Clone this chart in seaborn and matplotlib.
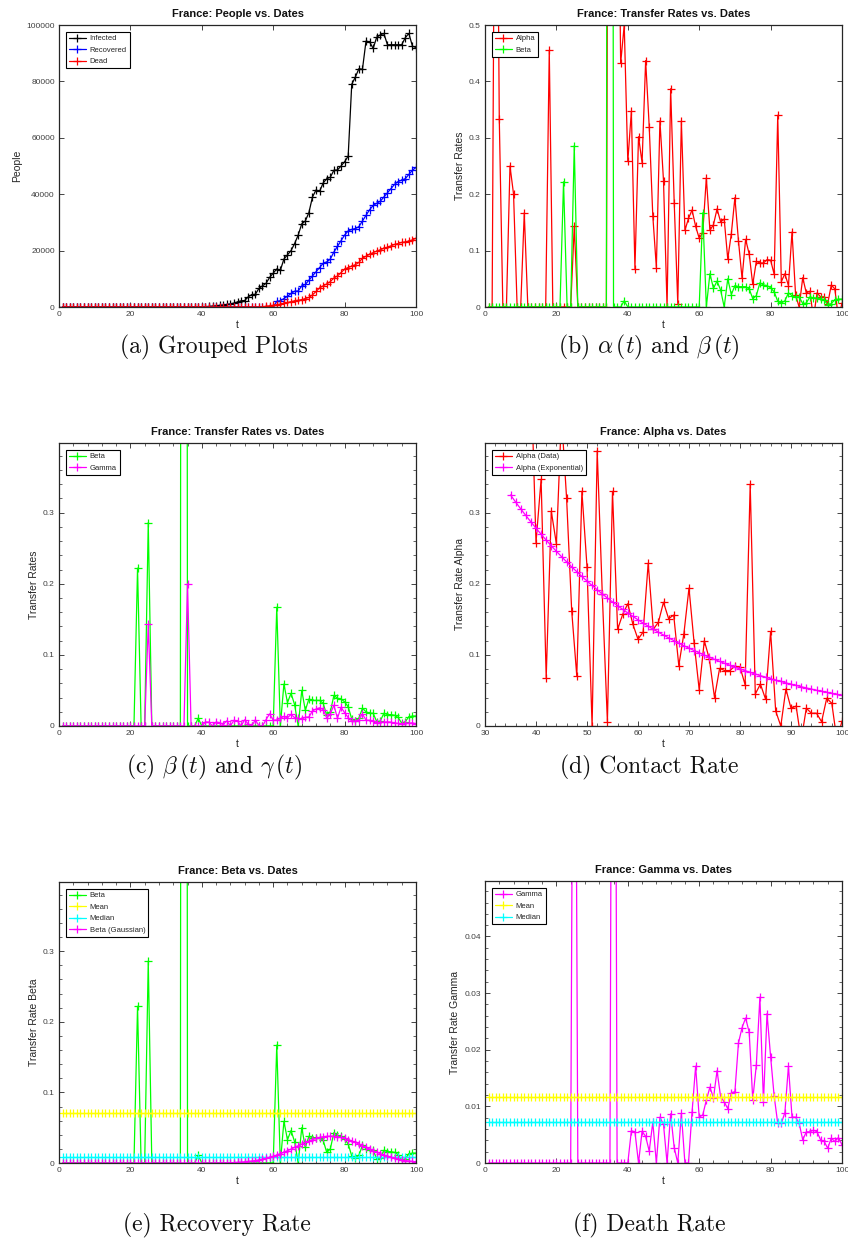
import numpy as np
import matplotlib
matplotlib.use('Agg')
import matplotlib.pyplot as plt
import seaborn as sns
from matplotlib.ticker import MultipleLocator, AutoMinorLocator, FormatStrFormatter

# ---- data ----
days = list(range(1, 101))

infected = [0] * 40 + [
    100, 200, 300, 400, 600, 700, 900, 1100, 1400, 1800,
    2200, 2300, 3600, 4400, 4500, 6600, 7500, 8400, 10500, 12000,
    13500, 13000, 17000, 18500, 20000, 22500, 25500, 29500, 30500, 33500,
    39000, 41500, 41000, 44000, 45500, 46000, 48500, 48600, 50000, 51500,
    53500, 79000, 81500, 84500, 84300, 94300, 94000, 91700, 95700, 96500,
    97000, 93000, 93000, 93000, 93000, 93000, 95500, 97000, 92500, 92000]

recovered = [0] * 60 + [
    2000, 2200, 3000, 3800, 4800, 5600, 5700, 7500, 8000, 9500,
    11000, 12500, 14000, 15500, 16000, 17000, 19500, 21500, 23500, 25500,
    27000, 27500, 27800, 28500, 30500, 32500, 34500, 36000, 36800, 37500,
    39000, 40500, 42000, 43500, 44500, 45000, 45500, 47000, 48500, 49500]

dead = [0] * 57 + [
    300, 400, 600,
    800, 1000, 1300, 1600, 1900, 2200, 2400, 2600, 3000, 3400,
    4300, 5500, 6800, 7500, 8200, 9000, 10300, 11000, 12200, 13400,
    14000, 14500, 15000, 15800, 17300, 18000, 18700, 19300, 19800, 20300,
    20800, 21200, 21700, 22200, 22500, 22900, 23100, 23400, 23800, 24400]

alpha = [0, 0, 1.2, 0.333, 0, 0, 0.25, 0.2, 0, 0,
         0.167, 0, 0, 0, 0, 0, 0, 0.455, 0, 0,
         0, 0, 0, 0, 0.143, 0, 0, 0, 0, 0,
         0, 0, 0, 0, 2.0, 1.5, 1.0, 0.432, 0.5, 0.258,
         0.347, 0.068, 0.302, 0.256, 0.437, 0.32, 0.162, 0.07, 0.33, 0.224,
         0, 0.387, 0.185, 0.006, 0.33, 0.136, 0.157, 0.172, 0.143, 0.122,
         0.132, 0.229, 0.136, 0.146, 0.174, 0.151, 0.156, 0.085, 0.13, 0.194,
         0.117, 0.051, 0.12, 0.094, 0.04, 0.081, 0.078, 0.078, 0.084, 0.083,
         0.058, 0.34, 0.045, 0.059, 0.038, 0.133, 0.021, 0.0, 0.052, 0.025,
         0.028, -0.02, 0.025, 0.018, 0.018, 0.006, 0.039, 0.032, -0.02, 0.007]

beta = [0] * 21 + [0.222, 0, 0, 0.286] + [0] * 9 + [5.6, 0, 0, 0, 0.011] + [0] * 21 + [
    0.167, 0, 0.059, 0.033, 0.046, 0.03, 0, 0.05, 0.022, 0.038,
    0.036, 0.036, 0.036, 0.032, 0.015, 0.02, 0.043, 0.039, 0.038, 0.034,
    0.027, 0.01, 0.007, 0.011, 0.025, 0.02, 0.018, 0.018, 0.006, 0.007,
    0.018, 0.016, 0.016, 0.015, 0.012, 0.004, 0.006, 0.013, 0.014, 0.014]

gamma = [0] * 24 + [0.143] + [0] * 10 + [0.2] + [0] * 4 + [
    0.0057, 0.0055, 0, 0.0056, 0.0047, 0.0021, 0.0072, 0, 0.0081, 0.0068,
    0, 0.0087, 0.0027, 0, 0.0088, 0, 0, 0.009, 0.0171, 0.0081,
    0.0085, 0.0111, 0.0134, 0.0115, 0.0163, 0.0117, 0.0108, 0.0096, 0.0124, 0.0126,
    0.0212, 0.0239, 0.0256, 0.0231, 0.0112, 0.0173, 0.0293, 0.0108, 0.0264, 0.0188,
    0.0118, 0.007, 0.007, 0.0089, 0.0171, 0.0081, 0.0081, 0.007, 0.0041, 0.0055,
    0.0055, 0.0058, 0.0055, 0.0041, 0.0038, 0.0026, 0.0044, 0.0038, 0.0045, 0.0032]

# exponential fit of alpha, days 35..100
alpha_exp = [0.325, 0.315, 0.3054, 0.2961, 0.287, 0.2782, 0.2697, 0.2614, 0.2534, 0.2457,
             0.2382, 0.2309, 0.2238, 0.217, 0.2103, 0.2039, 0.1976, 0.1916, 0.1857, 0.18,
             0.1745, 0.1692, 0.164, 0.159, 0.1541, 0.1494, 0.1448, 0.1404, 0.1361, 0.1319,
             0.1279, 0.124, 0.1202, 0.1165, 0.1129, 0.1095, 0.1061, 0.1029, 0.0997, 0.0967,
             0.0937, 0.0908, 0.0881, 0.0854, 0.0828, 0.0802, 0.0778, 0.0754, 0.0731, 0.0708,
             0.0687, 0.0666, 0.0645, 0.0626, 0.0606, 0.0588, 0.057, 0.0552, 0.0535, 0.0519,
             0.0503, 0.0488, 0.0473, 0.0458, 0.0444, 0.0431]

# gaussian fit of beta, days 1..100
beta_gauss = [0] * 43 + [
    0.0001, 0.0002, 0.0003, 0.0004, 0.0005, 0.0007, 0.001,
    0.0013, 0.0017, 0.0022, 0.0028, 0.0035, 0.0044, 0.0054, 0.0066, 0.008, 0.0095,
    0.0113, 0.0132, 0.0152, 0.0174, 0.0198, 0.0221, 0.0245, 0.0269, 0.0292, 0.0313,
    0.0332, 0.0349, 0.0362, 0.0372, 0.0378, 0.038, 0.0378, 0.0372, 0.0362, 0.0349,
    0.0332, 0.0313, 0.0292, 0.0269, 0.0245, 0.0221, 0.0198, 0.0174, 0.0152, 0.0132,
    0.0113, 0.0095, 0.008, 0.0066, 0.0054, 0.0044, 0.0035, 0.0028, 0.0022, 0.0017]

beta_mean = [0.071] * 100
beta_median = [0.0085] * 100
gamma_mean = [0.0117] * 100
gamma_median = [0.0073] * 100

# ---- style ----
sns.set_theme(style='white')
plt.rcParams['font.family'] = ['Liberation Sans', 'DejaVu Sans']
plt.rcParams['mathtext.fontset'] = 'cm'

W, H = 848, 1245
fig = plt.figure(figsize=(W / 100, H / 100), dpi=100)
fig.patch.set_facecolor('white')


def px_axes(l, t, r, b):
    return fig.add_axes([l / W, 1 - b / H, (r - l) / W, (b - t) / H])


def draw(ax, x, y, color, label):
    sns.lineplot(x=x, y=y, ax=ax, color=color, label=label, marker='+',
                 markersize=5.5, markeredgewidth=0.9, markeredgecolor=color,
                 linewidth=0.9, sort=False)


def style(ax, title, ylabel, xlim, xstep, ylim, ystep, minor=False):
    ax.set_facecolor('white')
    ax.set_title(title, fontsize=8, fontweight='bold', pad=6, color='#111111')
    ax.set_xlabel('t', fontsize=7.5, color='#262626', labelpad=1.5)
    ax.set_ylabel(ylabel, fontsize=7.5, color='#262626', labelpad=3)
    ax.set_xlim(xlim)
    ax.set_ylim(ylim)
    ax.xaxis.set_major_locator(MultipleLocator(xstep))
    ax.yaxis.set_major_locator(MultipleLocator(ystep))
    ax.xaxis.set_major_formatter(FormatStrFormatter('%g'))
    ax.yaxis.set_major_formatter(FormatStrFormatter('%g'))
    if minor:
        ax.xaxis.set_minor_locator(AutoMinorLocator(5))
        ax.yaxis.set_minor_locator(AutoMinorLocator(5))
    ax.tick_params(which='both', direction='in', top=True, right=True,
                   bottom=True, left=True, color='#262626', labelsize=6,
                   labelcolor='#404040', pad=3)
    ax.tick_params(which='major', length=3.5, width=0.6)
    ax.tick_params(which='minor', length=2, width=0.5)
    for s in ax.spines.values():
        s.set_color('#262626')
        s.set_linewidth(0.9)
    leg = ax.legend(loc='upper left', fontsize=5.5, fancybox=False,
                    edgecolor='black', framealpha=1, borderaxespad=0.9,
                    handlelength=2.2, labelspacing=0.55, borderpad=0.4,
                    handletextpad=0.5)
    leg.get_frame().set_linewidth(0.8)


# (a)
ax = px_axes(59, 25, 416, 307)
draw(ax, days, infected, 'black', 'Infected')
draw(ax, days, recovered, 'blue', 'Recovered')
draw(ax, days, dead, 'red', 'Dead')
style(ax, 'France: People vs. Dates', 'People', (0, 100), 20, (0, 100000), 20000)

# (b)
ax = px_axes(485, 25, 842, 307)
draw(ax, days, alpha, 'red', 'Alpha')
draw(ax, days, beta, '#00ff00', 'Beta')
style(ax, 'France: Transfer Rates vs. Dates', 'Transfer Rates', (0, 100), 20, (0, 0.5), 0.1)

# (c)
ax = px_axes(59, 443, 416, 726)
draw(ax, days, beta, '#00ff00', 'Beta')
draw(ax, days, gamma, 'magenta', 'Gamma')
style(ax, 'France: Transfer Rates vs. Dates', 'Transfer Rates', (0, 100), 20, (0, 0.398), 0.1, minor=True)

# (d)
ax = px_axes(485, 443, 842, 726)
draw(ax, days[34:], alpha[34:], 'red', 'Alpha (Data)')
draw(ax, days[34:], alpha_exp, 'magenta', 'Alpha (Exponential)')
style(ax, 'France: Alpha vs. Dates', 'Transfer Rate Alpha', (30, 100), 10, (0, 0.398), 0.1, minor=True)

# (e)
ax = px_axes(59, 882, 416, 1163)
draw(ax, days, beta, '#00ff00', 'Beta')
draw(ax, days, beta_mean, 'yellow', 'Mean')
draw(ax, days, beta_median, 'cyan', 'Median')
draw(ax, days, beta_gauss, 'magenta', 'Beta (Gaussian)')
style(ax, 'France: Beta vs. Dates', 'Transfer Rate Beta', (0, 100), 20, (0, 0.398), 0.1, minor=True)

# (f)
ax = px_axes(485, 881, 842, 1163)
draw(ax, days, gamma, 'magenta', 'Gamma')
draw(ax, days, gamma_mean, 'yellow', 'Mean')
draw(ax, days, gamma_median, 'cyan', 'Median')
style(ax, 'France: Gamma vs. Dates', 'Transfer Rate Gamma', (0, 100), 20, (0, 0.0498), 0.01, minor=True)

# captions
cap = dict(fontsize=17, family='cmr10', ha='center', va='center', color='#111111')
fig.text(214 / W, 1 - 347 / H, '(a) Grouped Plots', **cap)
fig.text(649 / W, 1 - 347 / H, r'(b) $\alpha\,(t)$ and $\beta\,(t)$', **cap)
fig.text(214 / W, 1 - 767 / H, r'(c) $\beta\,(t)$ and $\gamma\,(t)$', **cap)
fig.text(649 / W, 1 - 767 / H, '(d) Contact Rate', **cap)
fig.text(217 / W, 1 - 1225 / H, '(e) Recovery Rate', **cap)
fig.text(649 / W, 1 - 1225 / H, '(f) Death Rate', **cap)

fig.savefig('out.png', dpi=100, facecolor='white')
